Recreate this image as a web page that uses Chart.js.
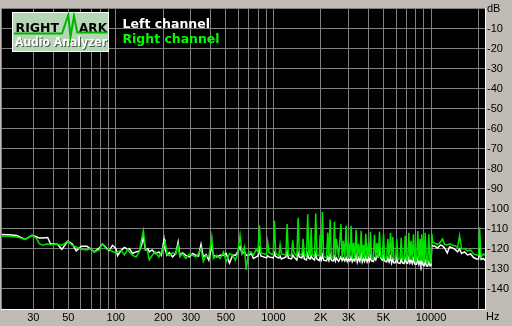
<!DOCTYPE html>
<html lang="en">
<head>
<meta charset="UTF-8">
<title>RMAA spectrum</title>
<script src="https://cdn.jsdelivr.net/npm/chart.js"></script>
<style>
  html, body { margin: 0; padding: 0; background: #c0bcb5; overflow: hidden; }
  canvas { display: block; }
</style>
</head>
<body>
<canvas id="grafico" width="512" height="326"></canvas>
<script>
// frequencia (Hz)
const freqHz = [
  18.7, 21.1, 23.5, 26.6, 29.4, 31.3, 32.7, 34.3, 37.0, 38.5,
  42.6, 45.5, 49.5, 52.9, 56.1, 60.5, 65.7, 68.8, 73.1, 78.5,
  82.3, 87.2, 90.8, 95.4, 100.2, 102.6, 108.1, 113.5, 119.2, 121.8,
  127.9, 134.4, 141, 145.8, 149.6, 154.2, 159.7, 163.2, 170.2, 178.6,
  187.7, 194.6, 202.3, 205.2, 211.4, 218.7, 229.3, 240.1, 248.6, 254.8,
  265, 278, 293, 307.5, 322.5, 335.1, 347.2, 359.2, 374, 389,
  406.5, 416.6, 437.4, 459.7, 482.2, 501.8, 526.1, 551.7, 573.9, 593.3,
  614.5, 632.7, 655.2, 671.9, 694.6, 722.9, 747.5, 777.9, 798.6, 815,
  832, 904, 920, 937, 997, 1015, 1033, 1083, 1103, 1123,
  1200, 1222, 1244, 1302, 1326, 1350, 1409, 1435, 1461, 1515,
  1543, 1571, 1621, 1651, 1681, 1711, 1736, 1760, 1822, 1856,
  1889, 1955, 1979, 2012, 2047, 2084, 2172, 2212, 2250, 2291,
  2332, 2396, 2440, 2475, 2511, 2595, 2682, 2730, 2782, 2838,
  2894, 2943, 2993, 3052, 3113, 3165, 3220, 3283, 3349, 3406,
  3465, 3535, 3605, 3665, 3727, 3790, 3855, 3930, 4010, 4070,
  4129, 4200, 4300, 4378, 4460, 4541, 4625, 4710, 4790, 4910,
  4995, 5080, 5230, 5318, 5420, 5532, 5625, 5722, 5820, 5965,
  6067, 6170, 6360, 6469, 6580, 6740, 6857, 6975, 7105, 7228,
  7345, 7464, 7600, 7742, 7880, 8100, 8245, 8380, 8516, 8630,
  8742, 8900, 9030, 9188, 9350, 9510, 9684, 9850, 9990, 10118,
  10250, 10525, 10998, 11490, 11832, 12183, 12674, 13107, 13694, 14308,
  14735, 15172, 15622, 16323, 17056, 17820, 18620, 19455, 20034, 20328,
  20779, 21540, 21870, 22050
];

// canal direito (verde), dB
const rightDb = [
  -113.6, -113.7, -114.0, -115.3, -113.2, -114.6, -117.4, -118.2, -117.4, -117.9,
  -117.7, -118.2, -116.2, -118.2, -119.0, -120.2, -120.5, -119.8, -121.5, -120.5,
  -117.5, -120.2, -120.2, -121.3, -122.0, -121.5, -120.7, -123.0, -120.2, -121.5,
  -123.2, -124.0, -121.5, -115.0, -110.9, -119.8, -121.5, -125.5, -123.2, -121.5,
  -124.0, -121.5, -118.0, -115.7, -122.6, -123.4, -121.9, -122.3, -118.2, -124.0,
  -122.3, -124.8, -122.6, -123.2, -124.0, -122.3, -119.8, -126.3, -123.2, -124.0,
  -114.1, -124.8, -123.2, -124.8, -121.5, -126.4, -122.3, -123.2, -125.6, -122.3,
  -113.3, -122.3, -119.0, -130.5, -121.5, -121.5, -123.2, -120.2, -121.5, -108.2,
  -122.0, -122.8, -116.6, -121.8, -123.0, -106.0, -122.0, -123.5, -118.0, -122.5,
  -123.0, -107.6, -122.8, -123.5, -115.7, -122.0, -123.6, -104.4, -122.5, -123.0,
  -115.0, -122.6, -123.8, -102.7, -123.0, -123.2, -110.0, -122.5, -124.0, -102.3,
  -123.0, -123.5, -113.0, -123.6, -101.4, -124.0, -124.2, -111.8, -124.0, -105.3,
  -124.0, -124.5, -106.5, -124.0, -115.0, -124.5, -107.6, -124.5, -116.0, -124.2,
  -108.4, -124.7, -117.0, -124.5, -108.5, -125.0, -117.0, -124.6, -110.5, -125.0,
  -117.5, -124.6, -110.9, -125.0, -118.0, -124.8, -112.5, -125.0, -117.0, -124.5,
  -111.5, -124.8, -125.0, -113.0, -124.5, -117.0, -124.5, -111.5, -124.0, -124.6,
  -112.5, -124.5, -125.0, -115.0, -124.8, -112.0, -125.0, -114.1, -125.2, -125.0,
  -114.9, -125.2, -125.0, -114.5, -125.5, -125.2, -113.5, -125.5, -125.3, -111.9,
  -125.5, -116.0, -125.6, -112.7, -125.8, -125.5, -111.1, -126.0, -115.0, -126.0,
  -112.7, -126.2, -126.5, -112.0, -126.5, -126.8, -112.7, -126.8, -127.0, -112.5,
  -116.8, -117.0, -117.8, -116.5, -115.0, -117.8, -118.0, -117.5, -118.2, -118.5,
  -119.3, -113.3, -120.0, -119.8, -121.0, -120.5, -122.5, -123.0, -123.0, -109.2,
  -124.0, -122.5, -123.0, -123.0
];

// canal esquerdo (branco), dB
const leftDb = [
  -112.8, -112.9, -113.3, -115.3, -113.2, -113.9, -114.6, -114.6, -114.3, -117.4,
  -117.7, -120.2, -116.2, -117.4, -121.0, -118.7, -118.7, -119.8, -121.5, -119.6,
  -117.5, -119.6, -120.7, -118.2, -119.8, -123.4, -120.7, -119.2, -120.2, -119.8,
  -122.3, -121.5, -121.0, -118.0, -114.0, -120.5, -119.8, -121.5, -120.5, -122.3,
  -121.5, -123.2, -115.3, -120.0, -123.2, -121.9, -124.0, -122.3, -116.6, -123.2,
  -121.9, -123.2, -124.0, -122.3, -123.2, -123.6, -117.7, -124.0, -122.8, -125.6,
  -118.6, -123.2, -124.0, -123.2, -123.2, -122.3, -127.1, -123.2, -123.2, -121.5,
  -118.9, -122.3, -121.5, -123.2, -123.2, -122.3, -124.8, -124.0, -123.5, -120.0,
  -123.5, -124.5, -123.5, -124.0, -124.5, -122.0, -123.8, -124.6, -123.5, -125.0,
  -124.0, -121.5, -124.6, -125.0, -123.0, -124.0, -125.5, -122.0, -124.0, -124.5,
  -121.5, -125.0, -125.5, -122.5, -124.8, -125.0, -123.5, -124.6, -125.5, -122.5,
  -125.0, -125.8, -124.0, -125.5, -123.0, -125.6, -126.0, -124.0, -125.8, -123.0,
  -125.6, -126.0, -124.0, -126.0, -124.5, -126.2, -124.0, -125.8, -124.6, -126.0,
  -124.3, -126.3, -125.0, -126.0, -124.0, -126.4, -125.2, -126.0, -123.0, -126.6,
  -124.5, -126.2, -122.5, -126.5, -124.8, -126.2, -124.0, -126.5, -124.5, -126.0,
  -123.5, -126.0, -126.3, -124.5, -125.5, -123.5, -124.0, -120.5, -124.5, -125.5,
  -124.0, -126.0, -126.5, -124.5, -126.5, -124.0, -127.0, -125.0, -127.0, -126.8,
  -124.5, -127.0, -127.2, -125.0, -127.0, -127.3, -125.0, -127.0, -127.2, -124.5,
  -127.0, -125.5, -127.3, -125.0, -127.5, -127.6, -125.0, -127.8, -126.0, -128.0,
  -126.0, -128.2, -128.5, -126.0, -128.5, -128.6, -126.5, -128.5, -128.4, -118.0,
  -118.5, -118.5, -119.5, -118.0, -118.5, -119.5, -122.0, -119.0, -119.5, -120.5,
  -121.5, -120.0, -122.3, -121.5, -123.0, -122.5, -124.3, -125.0, -125.0, -121.0,
  -125.3, -124.8, -125.5, -125.5
];

const xGridValues = [30, 40, 50, 60, 70, 80, 90, 100, 200, 300, 400, 500, 600, 700, 800, 900,
  1000, 2000, 3000, 4000, 5000, 6000, 7000, 8000, 9000, 10000, 20000];
const xLabelValues = [30, 50, 100, 200, 300, 500, 1000, 2000, 3000, 5000, 10000];
const xLabelTexts = ['30', '50', '100', '200', '300', '500', '1000', '2K', '3K', '5K', '10000'];

const corFundo = '#c0bcb5';
const corGrade = '#808080';
const corVerde = '#00e400';

const rmaaPlugin = {
  id: 'rmaa',
  beforeDraw(chart) {
    const ctx = chart.ctx;
    const a = chart.chartArea;
    ctx.save();
    ctx.fillStyle = corFundo;
    ctx.fillRect(0, 0, chart.width, chart.height);
    ctx.fillStyle = '#000000';
    ctx.fillRect(a.left, a.top, a.right - a.left, a.bottom - a.top);
    ctx.restore();
  },
  afterDraw(chart) {
    const ctx = chart.ctx;
    const a = chart.chartArea;
    ctx.save();

    // borda esquerda
    ctx.strokeStyle = corGrade;
    ctx.lineWidth = 1;
    ctx.beginPath();
    ctx.moveTo(a.left + 0.5, a.top);
    ctx.lineTo(a.left + 0.5, a.bottom);
    ctx.stroke();

    // unidades
    ctx.fillStyle = '#000000';
    ctx.font = '11px "Liberation Sans"';
    ctx.textAlign = 'left';
    ctx.textBaseline = 'alphabetic';
    ctx.fillText('dB', a.right + 2, 11.5);
    ctx.fillText('Hz', a.right + 1, 319.5);

    // logo
    ctx.fillStyle = '#b6d7b6';
    ctx.fillRect(12, 12, 97, 40);
    ctx.strokeStyle = '#ffffff';
    ctx.strokeRect(12.5, 12.5, 96, 39);
    ctx.fillStyle = '#000000';
    ctx.font = 'bold 12.5px "DejaVu Sans"';
    ctx.fillText('RIGHT', 15.5, 31.5, 45);
    ctx.fillText('ARK', 79, 31.5, 28);
    ctx.strokeStyle = '#00b400';
    ctx.lineWidth = 2;
    ctx.lineJoin = 'miter';
    ctx.beginPath();
    ctx.moveTo(14, 33.5);
    ctx.lineTo(62, 33.5);
    ctx.lineTo(68.3, 15);
    ctx.lineTo(70.5, 37);
    ctx.lineTo(74, 16);
    ctx.lineTo(77.3, 32.5);
    ctx.lineTo(107.5, 32.5);
    ctx.stroke();
    ctx.font = 'bold 11.5px "DejaVu Sans"';
    ctx.fillStyle = '#4a5a4a';
    ctx.fillText('Audio Analyzer', 16, 47, 92);
    ctx.fillStyle = '#ffffff';
    ctx.fillText('Audio Analyzer', 15, 46, 92);

    // legenda
    ctx.font = 'bold 12.5px "DejaVu Sans"';
    ctx.fillStyle = chart.data.datasets[1].borderColor;
    ctx.fillText(chart.data.datasets[1].label, 122.5, 27.5, 89);
    ctx.fillStyle = '#00ff00';
    ctx.fillText(chart.data.datasets[0].label, 122.5, 43, 97);

    ctx.restore();
  }
};

const ctx = document.getElementById('grafico').getContext('2d');
const grafico = new Chart(ctx, {
  type: 'line',
  data: {
    datasets: [
      {
        label: 'Right channel',
        data: freqHz.map((f, i) => ({ x: f, y: rightDb[i] })),
        borderColor: corVerde,
        borderWidth: 1.5,
        pointRadius: 0,
        tension: 0,
        order: 0
      },
      {
        label: 'Left channel',
        data: freqHz.map((f, i) => ({ x: f, y: leftDb[i] })),
        borderColor: '#ffffff',
        borderWidth: 1.5,
        pointRadius: 0,
        tension: 0,
        order: 1
      }
    ]
  },
  options: {
    responsive: false,
    animation: false,
    devicePixelRatio: 1,
    layout: { padding: { left: 1, top: 1, right: 0, bottom: 0 } },
    plugins: {
      legend: { display: false },
      tooltip: { enabled: false }
    },
    scales: {
      x: {
        type: 'logarithmic',
        min: 18.7,
        max: 22000,
        afterBuildTicks: (axis) => {
          axis.ticks = xGridValues.map(v => ({ value: v }));
        },
        afterFit: (axis) => { axis.height = 17; },
        ticks: {
          autoSkip: false,
          maxRotation: 0,
          padding: 2,
          color: '#000000',
          font: { family: 'Liberation Sans', size: 11 },
          callback: (value) => {
            const i = xLabelValues.indexOf(value);
            return i >= 0 ? xLabelTexts[i] : '';
          }
        },
        grid: { color: corGrade, lineWidth: 1, drawTicks: false },
        border: { color: '#ffffff', width: 1 }
      },
      y: {
        position: 'right',
        min: -150,
        max: 0,
        afterFit: (axis) => { axis.width = 27; },
        ticks: {
          stepSize: 10,
          padding: 2,
          color: '#000000',
          font: { family: 'Liberation Sans', size: 11 },
          callback: (value) => (value === 0 || value === -150) ? '' : String(value)
        },
        grid: { color: corGrade, lineWidth: 1, drawTicks: false },
        border: { color: '#ffffff', width: 1 }
      }
    }
  },
  plugins: [rmaaPlugin]
});
</script>
</body>
</html>
